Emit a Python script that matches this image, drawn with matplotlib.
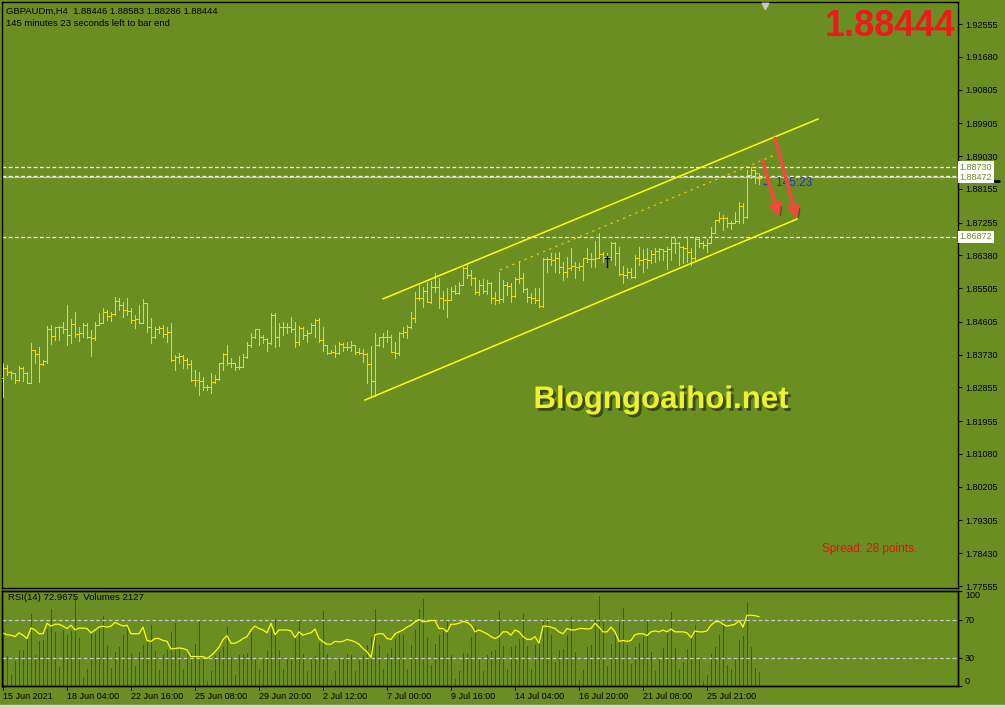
import matplotlib
matplotlib.use("Agg")
import matplotlib.pyplot as plt
import matplotlib.patheffects as pe
import matplotlib.transforms as mtransforms
from matplotlib.collections import LineCollection

plt.rcParams['font.family'] = ['Liberation Sans', 'DejaVu Sans']

# ---- data ----
bar_open = [
    1.8310, 1.8337, 1.8327, 1.8324, 1.8305, 1.8337, 1.8324, 1.8297, 1.8385, 1.8375,
    1.8348, 1.8356, 1.8442, 1.8423, 1.8447, 1.8447, 1.8442, 1.8426, 1.8455, 1.8428,
    1.8431, 1.8452, 1.8420, 1.8418, 1.8452, 1.8458, 1.8487, 1.8476, 1.8482, 1.8516,
    1.8506, 1.8492, 1.8490, 1.8466, 1.8468, 1.8458, 1.8511, 1.8447, 1.8420, 1.8442,
    1.8444, 1.8428, 1.8434, 1.8359, 1.8367, 1.8369, 1.8359, 1.8348, 1.8305, 1.8305,
    1.8303, 1.8287, 1.8287, 1.8300, 1.8308, 1.8351, 1.8375, 1.8351, 1.8351, 1.8340,
    1.8340, 1.8367, 1.8399, 1.8420, 1.8442, 1.8420, 1.8415, 1.8404, 1.8479, 1.8420,
    1.8447, 1.8447, 1.8447, 1.8442, 1.8407, 1.8444, 1.8426, 1.8431, 1.8452, 1.8466,
    1.8412, 1.8399, 1.8377, 1.8380, 1.8377, 1.8401, 1.8393, 1.8393, 1.8399, 1.8380,
    1.8377, 1.8375, 1.8348, 1.8303, 1.8399, 1.8420, 1.8420, 1.8420, 1.8380, 1.8377,
    1.8431, 1.8434, 1.8447, 1.8471, 1.8524, 1.8524, 1.8543, 1.8514, 1.8554, 1.8554,
    1.8524, 1.8519, 1.8519, 1.8543, 1.8538, 1.8559, 1.8604, 1.8586, 1.8578, 1.8540,
    1.8559, 1.8543, 1.8564, 1.8524, 1.8519, 1.8522, 1.8559, 1.8556, 1.8530, 1.8575,
    1.8578, 1.8548, 1.8527, 1.8524, 1.8519, 1.8503, 1.8628, 1.8628, 1.8626, 1.8631,
    1.8607, 1.8594, 1.8604, 1.8610, 1.8607, 1.8610, 1.8631, 1.8628, 1.8628, 1.8631,
    1.8642, 1.8634, 1.8634, 1.8671, 1.8644, 1.8588, 1.8586, 1.8594, 1.8580, 1.8631,
    1.8626, 1.8628, 1.8626, 1.8642, 1.8650, 1.8655, 1.8650, 1.8655, 1.8671, 1.8671,
    1.8660, 1.8658, 1.8647, 1.8631, 1.8682, 1.8671, 1.8666, 1.8671, 1.8698, 1.8733,
    1.8738, 1.8738, 1.8725, 1.8725, 1.8730, 1.8770, 1.8741, 1.8853, 1.8866, 1.88446,
]
bar_high = [
    1.8351, 1.8345, 1.8329, 1.8324, 1.8343, 1.8340, 1.8327, 1.8404, 1.8385, 1.8393,
    1.8359, 1.8450, 1.8452, 1.8447, 1.8450, 1.8460, 1.8506, 1.8468, 1.8487, 1.8447,
    1.8458, 1.8458, 1.8439, 1.8460, 1.8484, 1.8498, 1.8492, 1.8487, 1.8527, 1.8524,
    1.8514, 1.8524, 1.8498, 1.8479, 1.8506, 1.8522, 1.8511, 1.8471, 1.8447, 1.8450,
    1.8452, 1.8447, 1.8458, 1.8372, 1.8377, 1.8372, 1.8364, 1.8359, 1.8332, 1.8327,
    1.8313, 1.8292, 1.8324, 1.8319, 1.8351, 1.8377, 1.8399, 1.8364, 1.8351, 1.8369,
    1.8375, 1.8407, 1.8431, 1.8442, 1.8442, 1.8426, 1.8418, 1.8484, 1.8484, 1.8458,
    1.8460, 1.8458, 1.8474, 1.8460, 1.8450, 1.8447, 1.8439, 1.8458, 1.8468, 1.8471,
    1.8447, 1.8399, 1.8385, 1.8399, 1.8407, 1.8404, 1.8407, 1.8409, 1.8399, 1.8391,
    1.8388, 1.8377, 1.8396, 1.8431, 1.8420, 1.8431, 1.8439, 1.8426, 1.8407, 1.8434,
    1.8447, 1.8452, 1.8487, 1.8540, 1.8559, 1.8554, 1.8567, 1.8570, 1.8591, 1.8578,
    1.8543, 1.8551, 1.8554, 1.8559, 1.8567, 1.8607, 1.8612, 1.8599, 1.8580, 1.8572,
    1.8575, 1.8572, 1.8566, 1.8540, 1.8594, 1.8572, 1.8567, 1.8564, 1.8580, 1.8623,
    1.8591, 1.8551, 1.8538, 1.8551, 1.8551, 1.8631, 1.8634, 1.8644, 1.8644, 1.8647,
    1.8620, 1.8634, 1.8658, 1.8620, 1.8618, 1.8631, 1.8658, 1.8644, 1.8676, 1.8698,
    1.8647, 1.8644, 1.8674, 1.8674, 1.8660, 1.8610, 1.8604, 1.8604, 1.8639, 1.8660,
    1.8655, 1.8658, 1.8652, 1.8658, 1.8658, 1.8655, 1.8660, 1.8687, 1.8684, 1.8674,
    1.8663, 1.8687, 1.8658, 1.8687, 1.8684, 1.8676, 1.8682, 1.8714, 1.8733, 1.8754,
    1.8746, 1.8740, 1.8730, 1.8754, 1.8781, 1.8778, 1.8866, 1.8874, 1.8866, 1.88583,
]
bar_low = [
    1.8260, 1.8319, 1.8308, 1.8297, 1.8303, 1.8303, 1.8297, 1.8297, 1.8351, 1.8300,
    1.8346, 1.8351, 1.8401, 1.8412, 1.8412, 1.8431, 1.8399, 1.8404, 1.8420, 1.8409,
    1.8420, 1.8418, 1.8369, 1.8412, 1.8452, 1.8458, 1.8466, 1.8463, 1.8480, 1.8492,
    1.8474, 1.8479, 1.8458, 1.8444, 1.8458, 1.8458, 1.8434, 1.8404, 1.8418, 1.8431,
    1.8420, 1.8407, 1.8356, 1.8332, 1.8351, 1.8337, 1.8337, 1.8303, 1.8289, 1.8265,
    1.8279, 1.8279, 1.8271, 1.8297, 1.8305, 1.8332, 1.8345, 1.8340, 1.8332, 1.8335,
    1.8340, 1.8364, 1.8393, 1.8418, 1.8399, 1.8404, 1.8383, 1.8401, 1.8393, 1.8396,
    1.8426, 1.8431, 1.8434, 1.8393, 1.8399, 1.8415, 1.8407, 1.8431, 1.8420, 1.8407,
    1.8383, 1.8375, 1.8377, 1.8367, 1.8375, 1.8383, 1.8385, 1.8383, 1.8375, 1.8375,
    1.8353, 1.8297, 1.8260, 1.8263, 1.8396, 1.8393, 1.8407, 1.8380, 1.8364, 1.8372,
    1.8420, 1.8418, 1.8444, 1.8460, 1.8519, 1.8500, 1.8514, 1.8512, 1.8540, 1.8498,
    1.8495, 1.8474, 1.8519, 1.8535, 1.8536, 1.8559, 1.8578, 1.8559, 1.8535, 1.8532,
    1.8538, 1.8535, 1.8511, 1.8508, 1.8511, 1.8514, 1.8532, 1.8514, 1.8528, 1.8564,
    1.8540, 1.8514, 1.8511, 1.8511, 1.8500, 1.8500, 1.8594, 1.8612, 1.8594, 1.8591,
    1.8572, 1.8580, 1.8599, 1.8578, 1.8599, 1.8572, 1.8620, 1.8607, 1.8607, 1.8631,
    1.8620, 1.8626, 1.8626, 1.8612, 1.8586, 1.8564, 1.8578, 1.8578, 1.8578, 1.8612,
    1.8594, 1.8604, 1.8618, 1.8620, 1.8626, 1.8626, 1.8602, 1.8626, 1.8644, 1.8612,
    1.8618, 1.8620, 1.8612, 1.8626, 1.8660, 1.8658, 1.8647, 1.8671, 1.8698, 1.8727,
    1.8706, 1.8714, 1.8709, 1.8725, 1.8725, 1.8725, 1.8738, 1.8845, 1.8831, 1.88286,
]
bar_close = [
    1.8337, 1.8327, 1.8324, 1.8305, 1.8337, 1.8324, 1.8297, 1.8385, 1.8375, 1.8348,
    1.8356, 1.8442, 1.8423, 1.8447, 1.8447, 1.8442, 1.8426, 1.8455, 1.8428, 1.8431,
    1.8452, 1.8420, 1.8418, 1.8452, 1.8458, 1.8487, 1.8476, 1.8482, 1.8516, 1.8506,
    1.8492, 1.8490, 1.8466, 1.8468, 1.8458, 1.8511, 1.8447, 1.8420, 1.8442, 1.8444,
    1.8428, 1.8434, 1.8359, 1.8367, 1.8369, 1.8359, 1.8348, 1.8305, 1.8305, 1.8303,
    1.8287, 1.8287, 1.8300, 1.8308, 1.8351, 1.8375, 1.8351, 1.8351, 1.8340, 1.8340,
    1.8367, 1.8399, 1.8420, 1.8442, 1.8420, 1.8415, 1.8404, 1.8479, 1.8420, 1.8447,
    1.8447, 1.8447, 1.8442, 1.8407, 1.8444, 1.8426, 1.8431, 1.8452, 1.8466, 1.8412,
    1.8399, 1.8377, 1.8380, 1.8377, 1.8401, 1.8393, 1.8393, 1.8399, 1.8380, 1.8377,
    1.8375, 1.8348, 1.8303, 1.8399, 1.8420, 1.8420, 1.8420, 1.8380, 1.8377, 1.8431,
    1.8434, 1.8447, 1.8471, 1.8524, 1.8524, 1.8543, 1.8514, 1.8554, 1.8554, 1.8524,
    1.8519, 1.8519, 1.8543, 1.8538, 1.8559, 1.8604, 1.8586, 1.8578, 1.8540, 1.8559,
    1.8543, 1.8564, 1.8524, 1.8519, 1.8522, 1.8559, 1.8556, 1.8530, 1.8575, 1.8578,
    1.8548, 1.8527, 1.8524, 1.8519, 1.8503, 1.8628, 1.8628, 1.8626, 1.8631, 1.8607,
    1.8594, 1.8604, 1.8610, 1.8607, 1.8610, 1.8631, 1.8628, 1.8628, 1.8631, 1.8642,
    1.8634, 1.8634, 1.8671, 1.8644, 1.8588, 1.8586, 1.8594, 1.8580, 1.8631, 1.8626,
    1.8628, 1.8626, 1.8642, 1.8650, 1.8655, 1.8650, 1.8655, 1.8671, 1.8671, 1.8660,
    1.8658, 1.8647, 1.8631, 1.8682, 1.8671, 1.8666, 1.8671, 1.8698, 1.8733, 1.8738,
    1.8738, 1.8725, 1.8725, 1.8730, 1.8770, 1.8741, 1.8853, 1.8866, 1.8858, 1.88444,
]
rsi_values = [
    55.6, 54, 53.5, 52, 56, 53.5, 50, 61, 59, 55,
    55, 66, 63, 65, 65, 63, 60.5, 64, 59, 61,
    61, 60.5, 56, 59, 62, 63, 62, 63, 67, 65,
    63, 64, 55, 55, 55, 62, 48, 47, 50, 50,
    48, 47, 39, 39.5, 40, 39.5, 38, 31, 31, 31,
    31, 29, 32, 36, 41, 49, 53, 45, 45, 47,
    50, 52, 59, 63, 60.5, 59, 56, 66, 54, 59,
    59, 59, 58, 51, 57, 53.5, 55, 56, 60, 50,
    46.5, 44, 44, 47, 46.5, 47, 49, 48, 46.5, 44,
    39.5, 36, 30, 54, 55, 55, 50, 49, 55, 57,
    59, 62, 64, 67.5, 70, 67.5, 68, 69, 69, 60.5,
    60.5, 57, 65, 65, 66, 68, 67, 64, 57, 59,
    57, 55, 52, 50, 52, 57, 57, 53.5, 59, 57,
    52, 49, 49, 52, 45, 63, 63, 62, 60.5, 57,
    55, 60.5, 59, 59, 60.5, 60.5, 60, 60.5, 66, 62,
    57, 57, 62, 57, 47, 48, 47, 48, 54, 55,
    55, 53, 57, 58, 57, 59, 57, 60, 57, 57,
    57, 56, 51, 58, 57, 57, 58, 64, 67.5, 68,
    65, 63, 64, 65, 69, 62, 74.5, 74.5, 74, 72.97,
]
tick_volume = [
    8625, 4525, 1875, 3725, 5375, 5400, 7125, 10875, 4725, 6725,
    6875, 8625, 11525, 8125, 2875, 8375, 7725, 8225, 13375, 7225,
    1225, 2625, 7875, 8125, 8725, 10475, 5975, 2725, 5125, 5875,
    7625, 9125, 4875, 3025, 5125, 6125, 6625, 9125, 5225, 2375,
    4725, 5625, 8125, 9525, 5625, 2525, 4875, 4900, 6375, 9625,
    4375, 725, 2225, 4625, 5125, 5875, 8875, 4375, 1725, 4625,
    4875, 4900, 8125, 3875, 2375, 4125, 5375, 8625, 10125, 5375,
    2625, 4125, 4375, 7375, 9725, 4875, 2225, 4225, 4525, 6525,
    11225, 4875, 875, 2225, 4125, 4225, 4875, 4725, 2225, 3875,
    4725, 6225, 7375, 11525, 6225, 2625, 4875, 5725, 7125, 7875,
    7625, 2525, 6125, 8375, 11525, 13025, 7225, 3225, 6375, 7725,
    8725, 9725, 4725, 1025, 2225, 5025, 4875, 7375, 8875, 4225,
    2225, 4625, 5225, 5375, 11225, 6025, 2525, 5875, 6025, 7125,
    10875, 6025, 2625, 6125, 6525, 10125, 10225, 7625, 3625, 5375,
    5625, 7625, 10375, 5125, 875, 2375, 5875, 6125, 10025, 13525,
    9625, 3025, 6375, 7625, 9625, 11725, 6225, 3375, 5875, 6525,
    7375, 9875, 5125, 2225, 4025, 5725, 8125, 11125, 5725, 2625,
    3625, 5625, 7125, 9125, 4225, 725, 1725, 4875, 5875, 7625,
    9125, 3225, 2625, 4125, 6875, 7525, 12625, 5875, 2725, 2127,
]
date_ticks = [0, 16, 32, 48, 64, 80, 96, 112, 128, 144, 160, 176]
date_labels = ['15 Jun 2021', '18 Jun 04:00', '22 Jun 16:00', '25 Jun 08:00',
               '29 Jun 20:00', '2 Jul 12:00', '7 Jul 00:00', '9 Jul 16:00',
               '14 Jul 04:00', '16 Jul 20:00', '21 Jul 08:00', '25 Jul 21:00']
price_ticks = [1.92555, 1.91680, 1.90805, 1.89905, 1.89030, 1.88155, 1.87255,
               1.86380, 1.85505, 1.84605, 1.83730, 1.82855, 1.81955, 1.81080,
               1.80205, 1.79305, 1.78430, 1.77555]
hline_prices = [1.88730, 1.88472, 1.86872]
bid_price = 1.88444
ask_price = 1.88472
# trend channel drawn on the chart: (bar index, price)
upper_channel = [(95.0, 1.8522), (203.75, 1.9002)]
lower_channel = [(90.5, 1.8252), (198.5, 1.8735)]
mid_channel = [(124.25, 1.8599), (193.0, 1.8906)]
red_arrows = [((189.9, 1.8891), (194.1, 1.8737)),
              ((193.0, 1.8950), (198.6, 1.8732))]

BG = '#6B8E23'
BAR = '#FFD700'
W, H = 1005, 708
PX = 0.72  # one screen pixel in points at 100 dpi

fig = plt.figure(figsize=(W / 100, H / 100), dpi=100, facecolor=BG)

# ---- main price window ----
ax = fig.add_axes([2 / W, 1 - 588 / H, 956 / W, 586 / H], facecolor=BG)
ax.set_xlim(-0.25, 238.75)
ax.set_ylim(1.77502, 1.93143)
for s in ax.spines.values():
    s.set_color('black')
    s.set_linewidth(1)
ax.set_xticks([])
ax.yaxis.tick_right()
ax.set_yticks(price_ticks)
ax.set_yticklabels(['%.5f' % p for p in price_ticks])
ax.tick_params(axis='y', direction='out', length=3, width=0.8, colors='black',
               labelsize=6.5, pad=2)

n = len(bar_close)
segs = []
for i in range(n):
    segs.append([(i, bar_low[i]), (i, bar_high[i])])
    segs.append([(i - 0.4, bar_open[i]), (i, bar_open[i])])
    segs.append([(i, bar_close[i]), (i + 0.4, bar_close[i])])
ax.add_collection(LineCollection(segs, colors=BAR, linewidths=PX,
                                 antialiaseds=False, zorder=3))

# horizontal lines
ax.axhline(ask_price, color='#C0C0C0', lw=0.8, zorder=2)
up1 = mtransforms.offset_copy(ax.transData, fig=fig, x=0, y=1, units='dots')
for p in hline_prices:
    tr = up1 if p == ask_price else ax.transData
    ax.plot([-0.25, 238.75], [p, p], color='white', lw=0.9,
            dashes=(3, 2), transform=tr, zorder=2)

# price boxes on the axis (black bid marker peeks out under the ask box)
yb = mtransforms.blended_transform_factory(ax.transAxes, ax.transData)
ax.plot([1.0, 1.044], [bid_price - 0.0009, bid_price - 0.0009], color='black',
        lw=2, transform=yb, clip_on=False, zorder=5, solid_capstyle='butt')
for p in hline_prices:
    ax.text(1.0015, p, '%.5f' % p, transform=yb, va='center', ha='left',
            fontsize=6.5, color='#6B8E23',
            bbox=dict(fc='white', ec='none', pad=1.3), clip_on=False, zorder=6)

# channel
ax.plot(*zip(*upper_channel), color='#FFFF00', lw=1.1, zorder=4)
ax.plot(*zip(*lower_channel), color='#FFFF00', lw=1.1, zorder=4)
ax.plot(*zip(*mid_channel), color='#FFD000', lw=0.8, dashes=(2, 4), zorder=4)

# small black marker near 16 Jul
ax.plot([151, 151], [1.8607, 1.8636], color='black', lw=1, zorder=5)
ax.plot([150.5, 151.5], [1.8631, 1.8631], color='black', lw=1, zorder=5)

# red arrows with shadow
for (x0, y0), (x1, y1) in red_arrows:
    ax.annotate('', xy=(x1, y1), xytext=(x0, y0),
                arrowprops=dict(arrowstyle='-|>,head_length=0.7,head_width=0.3',
                                color='#F04A3A', lw=2.6, shrinkA=0, shrinkB=0,
                                path_effects=[pe.SimplePatchShadow(offset=(2, -2),
                                              shadow_rgbFace='#2E3A0A', alpha=0.6),
                                              pe.Normal()]),
                zorder=7)

ax.text(189.5, 1.8832, '\u2190 145:23', fontsize=8.5, color='#2030C8',
        va='center', ha='left', zorder=6, family=['Liberation Sans', 'DejaVu Sans'])

# shift marker at top
ax.scatter([(765 - 2) / 956], [1 - 4 / 586], marker='v', s=22, color='#C8C8C8',
           transform=ax.transAxes, clip_on=False, zorder=8)

# ---- RSI / Volumes window ----
vax = fig.add_axes([2 / W, 1 - 686 / H, 956 / W, 95 / H], facecolor=BG)
vax.set_xlim(-0.25, 238.75)
vax.set_ylim(0, 14250)
vax.set_xticks([])
vax.set_yticks([])
vol_colors = ['#008000'] + ['#008000' if tick_volume[i] > tick_volume[i - 1] else '#FF0000'
                            for i in range(1, n)]
vax.vlines(range(n), 0, tick_volume, colors=vol_colors, lw=PX, antialiaseds=False)

rax = fig.add_axes([2 / W, 1 - 686 / H, 956 / W, 95 / H])
rax.patch.set_visible(False)
rax.set_xlim(-0.25, 238.75)
rax.set_ylim(0, 100)
for a in (vax, rax):
    for s in a.spines.values():
        s.set_color('black')
        s.set_linewidth(1)
for lvl in (70, 30):
    rax.axhline(lvl, color='#C8C8C8', lw=0.9, dashes=(3, 2))
rax.plot(range(n), rsi_values, color='#FFFF00', lw=0.9)

rax.yaxis.tick_right()
rax.set_yticks([0, 30, 70, 100])
rax.set_yticklabels(['0', '30', '70', '100'])
rax.tick_params(axis='y', direction='out', length=3, width=0.8, labelsize=6.5, pad=2)
for lab in rax.get_yticklabels():
    if lab.get_text() == '100':
        lab.set_va('top')
    elif lab.get_text() == '0':
        lab.set_va('bottom')

rax.set_xticks(date_ticks)
rax.set_xticklabels(date_labels, ha='left')
rax.tick_params(axis='x', direction='out', length=3, width=0.8, labelsize=6.5, pad=1)

# ---- texts ----
fig.text(6 / W, 1 - 11 / H, 'GBPAUDm,H4  1.88446 1.88583 1.88286 1.88444',
         fontsize=6.8, va='center', ha='left', color='black')
fig.text(6 / W, 1 - 24 / H, '145 minutes 23 seconds left to bar end',
         fontsize=6.8, va='center', ha='left', color='black')
fig.text(955 / W, 1 - 26 / H, '1.88444', fontsize=26, fontweight='bold',
         color='#F01818', va='center', ha='right')
fig.text(822 / W, 1 - 549 / H, 'Spread: 28 points.', fontsize=8.5,
         color='#E81010', va='center', ha='left')
fig.text(8 / W, 1 - 598 / H, 'RSI(14) 72.9675  Volumes 2127', fontsize=6.8,
         color='black', va='center', ha='left')
fig.text(661 / W, 1 - 400 / H, 'Blogngoaihoi.net', fontsize=22.5, fontweight='bold',
         color='#EEF22C', va='center', ha='center',
         path_effects=[pe.SimplePatchShadow(offset=(2, -2), shadow_rgbFace='#26300A',
                                            alpha=0.7), pe.Normal()])

# light strip at the very bottom
fig.add_artist(plt.Rectangle((0, 0), 1, 3 / H, transform=fig.transFigure,
                             color='#D8D8D0', zorder=0))

fig.savefig('out.png', dpi=100, facecolor=BG)
